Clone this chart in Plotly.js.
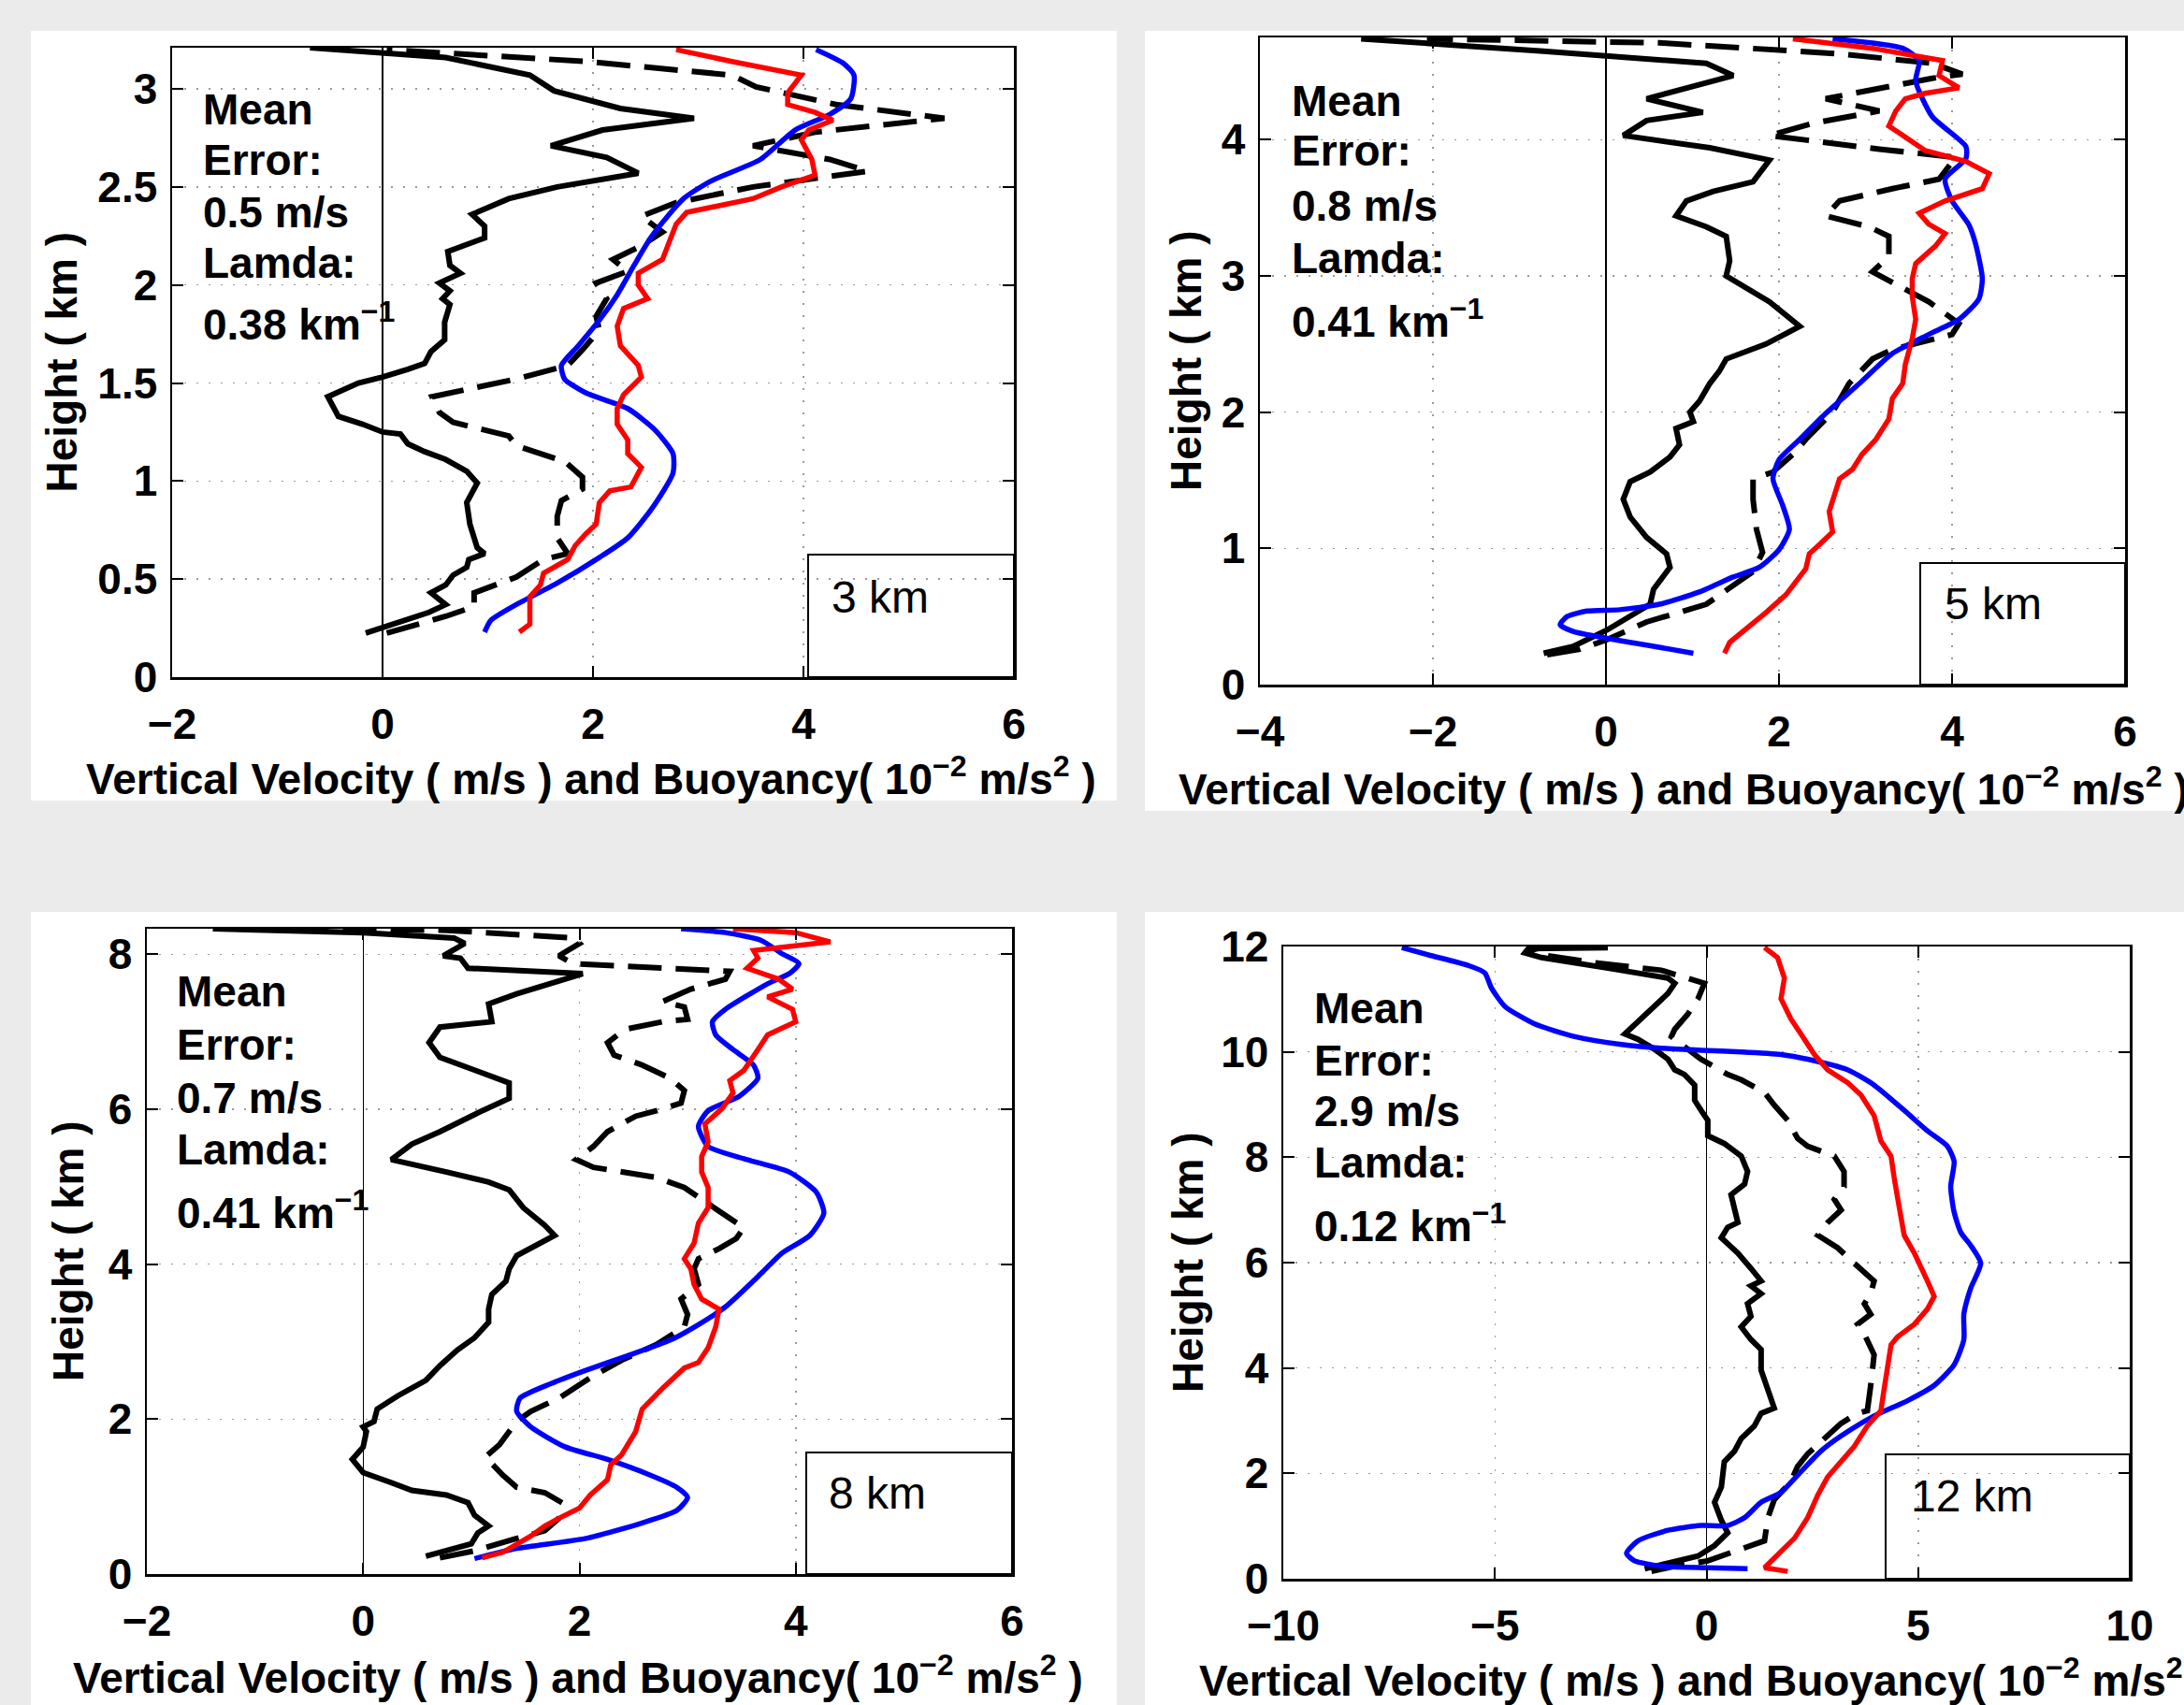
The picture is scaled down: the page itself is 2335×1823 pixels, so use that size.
<!DOCTYPE html>
<html>
<head>
<meta charset="utf-8">
<script src="https://cdn.plot.ly/plotly-3.0.1.min.js"></script>
<style>html,body{margin:0;padding:0;background:#ebebeb;}#chart{width:2335px;height:1823px;}</style>
</head>
<body>
<div id="chart"></div>
<script>
// ---------------- DATA ([value, height_km]) ----------------
// Panel "3 km"
const p1Solid = [[-0.16,0.225],[0.44,0.33],[0.60,0.37],[0.46,0.43],[0.60,0.47],[0.67,0.52],[0.80,0.56],[0.82,0.60],[0.97,0.63],[0.90,0.66],[0.83,0.78],[0.80,0.89],[0.90,0.99],[0.80,1.05],[0.60,1.11],[0.40,1.15],[0.24,1.19],[0.17,1.24],[0.0,1.25],[-0.19,1.29],[-0.42,1.33],[-0.52,1.43],[-0.23,1.50],[0,1.53],[0.24,1.57],[0.40,1.60],[0.46,1.66],[0.59,1.72],[0.59,1.81],[0.64,1.90],[0.57,1.93],[0.64,1.97],[0.54,2.01],[0.74,2.06],[0.64,2.10],[0.62,2.17],[0.97,2.24],[0.97,2.30],[0.85,2.36],[1.20,2.44],[1.66,2.50],[2.43,2.57],[2.13,2.65],[1.60,2.71],[2.09,2.79],[2.96,2.85],[2.26,2.90],[1.63,2.99],[1.40,3.07],[0.60,3.16],[-0.69,3.21]];
const p1Dashed = [[0.04,0.225],[0.60,0.31],[0.87,0.36],[0.87,0.43],[1.27,0.51],[1.53,0.60],[1.76,0.63],[1.66,0.71],[1.66,0.82],[1.70,0.90],[1.90,0.96],[1.90,1.02],[1.73,1.10],[1.27,1.18],[1.20,1.23],[0.67,1.30],[0.54,1.35],[0.47,1.43],[1.27,1.52],[1.76,1.59],[1.90,1.67],[2.06,1.77],[2.03,1.84],[2.13,1.93],[2.03,2.01],[2.33,2.07],[2.19,2.13],[2.46,2.20],[2.66,2.27],[2.46,2.35],[2.79,2.42],[3.52,2.50],[4.61,2.58],[4.25,2.64],[3.52,2.71],[4.12,2.78],[5.34,2.85],[4.31,2.92],[3.55,3.01],[3.32,3.07],[1.93,3.14],[0.04,3.20]];
const p1Blue = [[0.97,0.23],[1.03,0.29],[1.27,0.37],[1.66,0.48],[2.06,0.61],[2.33,0.71],[2.56,0.86],[2.76,1.04],[2.76,1.14],[2.59,1.26],[2.33,1.37],[1.93,1.45],[1.73,1.52],[1.70,1.59],[1.86,1.69],[2.06,1.82],[2.23,1.95],[2.39,2.10],[2.56,2.25],[2.86,2.44],[3.12,2.53],[3.59,2.64],[3.92,2.79],[4.25,2.87],[4.45,2.95],[4.48,3.07],[4.38,3.13],[4.12,3.20]];
const p1Red = [[1.30,0.23],[1.40,0.27],[1.40,0.41],[1.50,0.47],[1.53,0.53],[1.76,0.60],[1.83,0.67],[1.93,0.73],[2.03,0.78],[2.06,0.89],[2.16,0.95],[2.36,0.97],[2.46,1.07],[2.33,1.14],[2.33,1.21],[2.23,1.29],[2.23,1.37],[2.29,1.44],[2.46,1.53],[2.43,1.59],[2.26,1.69],[2.23,1.79],[2.29,1.88],[2.52,1.93],[2.43,2.00],[2.43,2.06],[2.66,2.13],[2.72,2.21],[2.79,2.31],[2.89,2.37],[3.52,2.44],[3.79,2.50],[3.95,2.53],[4.11,2.56],[4.08,2.64],[3.98,2.74],[4.05,2.79],[4.28,2.84],[4.11,2.88],[3.85,2.92],[3.85,2.98],[3.98,3.07],[3.32,3.14],[2.79,3.20]];

// Panel "5 km"
const p2Solid = [[-0.72,0.23],[-0.38,0.28],[0.01,0.40],[0.31,0.51],[0.51,0.59],[0.55,0.70],[0.74,0.86],[0.70,0.96],[0.47,1.08],[0.28,1.23],[0.20,1.36],[0.28,1.49],[0.51,1.56],[0.74,1.67],[0.85,1.76],[0.81,1.88],[1.01,1.93],[0.97,2.00],[1.08,2.08],[1.20,2.21],[1.31,2.30],[1.39,2.39],[1.85,2.50],[2.24,2.63],[1.89,2.81],[1.39,3.00],[1.43,3.11],[1.39,3.29],[1.16,3.36],[0.81,3.44],[0.93,3.55],[1.24,3.62],[1.70,3.69],[1.89,3.85],[1.20,3.94],[0.20,4.03],[0.47,4.14],[1.12,4.20],[0.47,4.30],[1.47,4.47],[1.16,4.56],[-0.76,4.65],[-2.83,4.74]];
const p2Dashed = [[-0.68,0.22],[-0.30,0.26],[0.01,0.33],[0.47,0.46],[1.16,0.59],[1.70,0.83],[1.81,0.97],[1.74,1.14],[1.70,1.36],[1.70,1.51],[1.93,1.56],[2.16,1.69],[2.31,1.80],[2.62,2.00],[2.81,2.21],[3.08,2.39],[3.31,2.46],[4.00,2.57],[4.08,2.65],[3.73,2.81],[3.08,3.03],[3.27,3.14],[3.27,3.29],[3.04,3.36],[2.54,3.44],[2.70,3.55],[3.31,3.64],[3.85,3.71],[4.04,3.87],[3.16,3.93],[1.89,4.03],[2.39,4.12],[3.16,4.21],[2.54,4.30],[3.77,4.45],[4.12,4.48],[3.77,4.56],[2.70,4.63],[0.62,4.71],[-2.07,4.74]];
const p2Blue = [[1.01,0.23],[0.47,0.29],[0.01,0.34],[-0.38,0.39],[-0.53,0.44],[-0.45,0.50],[-0.22,0.54],[0.16,0.55],[0.62,0.59],[1.08,0.68],[1.47,0.79],[1.77,0.86],[2.00,0.99],[2.12,1.14],[2.04,1.32],[1.93,1.51],[2.00,1.65],[2.24,1.80],[2.54,1.99],[2.93,2.21],[3.31,2.43],[3.73,2.57],[4.08,2.68],[4.31,2.83],[4.35,2.98],[4.27,3.24],[4.19,3.38],[4.00,3.55],[3.92,3.71],[4.16,3.86],[4.16,3.95],[3.77,4.17],[3.58,4.43],[3.62,4.58],[3.43,4.67],[2.62,4.74]];
const p2Red = [[1.37,0.23],[1.43,0.31],[1.85,0.53],[2.08,0.66],[2.31,0.85],[2.35,0.96],[2.47,1.03],[2.62,1.12],[2.58,1.27],[2.66,1.42],[2.70,1.51],[2.85,1.58],[2.96,1.69],[3.12,1.80],[3.27,1.95],[3.31,2.10],[3.43,2.21],[3.46,2.35],[3.54,2.54],[3.58,2.68],[3.54,2.85],[3.54,2.98],[3.58,3.09],[3.81,3.22],[3.92,3.31],[3.73,3.38],[3.62,3.46],[3.92,3.55],[4.35,3.64],[4.43,3.75],[4.16,3.84],[3.69,3.92],[3.27,4.10],[3.35,4.21],[3.46,4.30],[3.69,4.34],[4.08,4.38],[3.85,4.47],[3.89,4.58],[3.08,4.67],[2.16,4.74]];

// Panel "8 km"
const p3Solid = [[0.58,0.23],[0.77,0.30],[1.00,0.39],[1.06,0.53],[1.16,0.62],[1.03,0.76],[0.97,0.92],[0.77,1.02],[0.45,1.08],[0.26,1.18],[0.0,1.31],[-0.10,1.48],[0.0,1.64],[0.03,1.84],[0.0,1.90],[0.10,1.97],[0.13,2.13],[0.32,2.30],[0.58,2.50],[0.71,2.69],[0.87,2.89],[1.03,3.05],[1.16,3.25],[1.16,3.42],[1.19,3.61],[1.32,3.78],[1.35,3.94],[1.42,4.11],[1.55,4.20],[1.77,4.37],[1.68,4.50],[1.48,4.73],[1.35,4.96],[1.16,5.06],[0.77,5.19],[0.48,5.29],[0.26,5.35],[0.45,5.55],[0.71,5.71],[1.10,5.98],[1.35,6.14],[1.35,6.34],[1.10,6.47],[0.71,6.67],[0.61,6.86],[0.71,7.06],[1.19,7.13],[1.16,7.36],[1.42,7.49],[2.03,7.75],[0.97,7.82],[0.90,7.95],[0.74,7.98],[0.94,8.14],[0.84,8.21],[0.0,8.28],[-1.39,8.33]];
const p3Dashed = [[0.71,0.21],[1.03,0.30],[1.42,0.46],[1.68,0.56],[1.81,0.72],[1.84,0.92],[1.68,1.05],[1.42,1.12],[1.29,1.28],[1.13,1.51],[1.26,1.67],[1.35,1.84],[1.42,1.97],[1.55,2.10],[1.81,2.27],[2.13,2.56],[2.39,2.76],[2.71,2.96],[2.97,3.19],[3.00,3.35],[2.94,3.55],[3.10,3.74],[3.06,3.94],[3.10,4.07],[3.29,4.20],[3.45,4.33],[3.52,4.47],[3.35,4.63],[3.19,4.79],[2.97,4.99],[2.71,5.12],[2.39,5.19],[2.13,5.25],[1.97,5.35],[2.13,5.52],[2.26,5.71],[2.52,5.91],[2.71,5.98],[2.94,6.08],[2.97,6.24],[2.84,6.40],[2.58,6.57],[2.32,6.70],[2.26,6.86],[2.42,7.03],[2.77,7.13],[3.00,7.16],[2.97,7.32],[2.77,7.39],[3.03,7.55],[3.35,7.68],[3.39,7.78],[2.71,7.82],[1.94,7.88],[1.81,7.98],[2.00,8.14],[1.94,8.21],[0.77,8.31],[-0.65,8.33]];
const p3Blue = [[1.03,0.20],[1.42,0.33],[2.06,0.46],[2.58,0.66],[2.90,0.82],[3.00,0.99],[2.90,1.12],[2.65,1.28],[2.26,1.48],[1.87,1.64],[1.55,1.90],[1.42,2.10],[1.45,2.27],[1.74,2.46],[2.06,2.63],[2.45,2.82],[2.84,3.02],[3.10,3.22],[3.35,3.45],[3.68,3.88],[3.87,4.14],[4.13,4.37],[4.26,4.66],[4.19,4.93],[3.94,5.19],[3.55,5.35],[3.19,5.52],[3.10,5.78],[3.19,5.98],[3.48,6.17],[3.65,6.40],[3.61,6.57],[3.42,6.77],[3.26,6.96],[3.23,7.13],[3.35,7.29],[3.74,7.62],[3.94,7.75],[4.03,7.88],[3.87,8.01],[3.68,8.18],[3.35,8.28],[2.94,8.33]];
const p3Red = [[1.10,0.21],[1.29,0.28],[1.55,0.49],[1.68,0.62],[1.81,0.72],[2.00,0.85],[2.10,1.02],[2.26,1.22],[2.29,1.41],[2.39,1.54],[2.52,1.84],[2.58,2.13],[2.77,2.40],[2.97,2.66],[3.10,2.73],[3.19,2.92],[3.26,3.19],[3.29,3.42],[3.13,3.55],[3.06,3.74],[3.03,3.94],[2.97,4.07],[3.06,4.27],[3.10,4.53],[3.19,4.73],[3.19,4.99],[3.13,5.19],[3.13,5.39],[3.19,5.58],[3.16,5.81],[3.32,6.01],[3.42,6.21],[3.39,6.37],[3.52,6.50],[3.65,6.77],[3.74,6.96],[4.00,7.13],[3.97,7.29],[3.74,7.45],[3.97,7.55],[3.84,7.68],[3.55,7.82],[3.65,7.95],[3.61,8.05],[4.32,8.16],[4.00,8.28],[3.42,8.33]];

// Panel "12 km"
const p4Solid = [[-1.46,0.19],[-0.75,0.34],[-0.20,0.43],[0.19,0.63],[0.50,0.87],[0.35,1.11],[0.19,1.45],[0.35,1.74],[0.42,2.22],[0.66,2.42],[0.82,2.66],[1.13,2.90],[1.29,3.14],[1.60,3.24],[1.45,3.57],[1.29,3.96],[1.29,4.35],[1.05,4.54],[0.82,4.78],[1.05,4.98],[0.97,5.22],[1.29,5.41],[1.05,5.56],[1.29,5.65],[1.05,5.89],[0.74,6.18],[0.35,6.47],[0.50,6.67],[0.74,6.76],[0.66,7.05],[0.58,7.29],[0.90,7.49],[0.97,7.73],[0.82,8.02],[0.42,8.26],[0.03,8.41],[0.03,8.70],[-0.13,8.89],[-0.28,9.08],[-0.28,9.37],[-0.52,9.57],[-0.75,9.66],[-0.91,9.86],[-1.23,10.05],[-1.62,10.24],[-1.93,10.34],[-1.38,10.77],[-0.91,11.11],[-0.75,11.30],[-0.91,11.40],[-2.33,11.59],[-3.90,11.79],[-4.29,11.88],[-4.21,11.96],[-2.33,11.98]];
const p4Dashed = [[-1.30,0.14],[-0.75,0.24],[0.03,0.34],[0.90,0.58],[1.37,0.72],[1.45,1.16],[1.60,1.50],[1.99,1.84],[2.15,2.13],[2.39,2.37],[2.86,2.71],[3.18,2.95],[3.57,3.14],[3.80,3.19],[3.88,3.67],[3.96,4.25],[3.73,4.64],[3.57,4.83],[3.88,5.02],[3.73,5.22],[3.88,5.41],[3.96,5.65],[3.49,5.99],[3.10,6.28],[2.63,6.52],[2.86,6.76],[3.18,7.00],[3.02,7.20],[3.25,7.44],[3.25,7.73],[3.02,8.02],[2.39,8.21],[2.15,8.36],[1.92,8.70],[1.60,8.99],[1.37,9.23],[0.82,9.47],[0.50,9.57],[-0.13,9.86],[-0.83,10.29],[-0.75,10.43],[-0.44,10.72],[-0.20,11.01],[-0.05,11.30],[-1.07,11.55],[-2.64,11.69],[-3.90,11.84],[-4.29,11.90],[-3.90,11.98]];
const p4Blue = [[0.97,0.19],[0.03,0.21],[-1.07,0.24],[-1.70,0.34],[-1.89,0.48],[-1.62,0.72],[-0.91,0.92],[-0.13,1.01],[0.50,1.01],[0.90,1.16],[1.29,1.45],[1.76,1.64],[2.23,2.03],[2.70,2.42],[3.18,2.71],[3.96,3.09],[4.75,3.38],[5.38,3.67],[5.85,4.06],[6.08,4.54],[6.08,5.02],[6.24,5.51],[6.48,5.99],[6.24,6.33],[6.01,6.57],[5.85,6.96],[5.77,7.44],[5.85,7.92],[5.69,8.21],[5.22,8.50],[4.67,8.89],[3.96,9.37],[3.33,9.66],[2.39,9.86],[1.76,9.95],[0.82,10.00],[-0.13,10.03],[-1.07,10.07],[-2.01,10.14],[-3.11,10.29],[-4.06,10.53],[-4.76,10.86],[-5.08,11.21],[-5.24,11.50],[-5.63,11.64],[-6.57,11.84],[-7.20,11.98]];
const p4Red = [[1.92,0.14],[1.37,0.21],[1.60,0.39],[2.08,0.77],[2.39,1.16],[2.63,1.59],[2.86,1.93],[3.18,2.22],[3.49,2.51],[3.80,2.90],[4.12,3.19],[4.20,3.62],[4.28,4.06],[4.36,4.44],[4.51,4.59],[4.91,4.83],[5.22,5.12],[5.38,5.36],[5.22,5.65],[4.91,6.18],[4.67,6.52],[4.59,6.96],[4.51,7.25],[4.43,7.63],[4.36,8.02],[4.12,8.31],[3.96,8.79],[3.65,9.18],[3.33,9.42],[2.86,9.66],[2.55,9.95],[2.23,10.34],[1.99,10.63],[1.76,11.01],[1.84,11.40],[1.68,11.79],[1.37,11.98]];

// Tick values / labels
const p1XTicks = [-2,0,2,4,6], p1XLabels = ['−2','0','2','4','6'];
const p1YTicks = [0,0.5,1,1.5,2,2.5,3], p1YLabels = ['0','0.5','1','1.5','2','2.5','3'];
const p2XTicks = [-4,-2,0,2,4,6], p2XLabels = ['−4','−2','0','2','4','6'];
const p2YTicks = [0,1,2,3,4], p2YLabels = ['0','1','2','3','4'];
const p3XTicks = [-2,0,2,4,6], p3XLabels = ['−2','0','2','4','6'];
const p3YTicks = [0,2,4,6,8], p3YLabels = ['0','2','4','6','8'];
const p4XTicks = [-10,-5,0,5,10], p4XLabels = ['−10','−5','0','5','10'];
const p4YTicks = [0,2,4,6,8,10,12], p4YLabels = ['0','2','4','6','8','10','12'];

// Text
const meanErrors = ['0.5 m/s','0.8 m/s','0.7 m/s','2.9 m/s'];
const lamdas = ['0.38','0.41','0.41','0.12'];
const boxLabels = ['3 km','5 km','8 km','12 km'];
const xTitle = 'Vertical Velocity ( m/s ) and Buoyancy( 10<sup>−2</sup> m/s<sup>2</sup> )';
const yTitle = 'Height ( km )';

// ---------------- LAYOUT (pixel geometry) ----------------
const W = 2335, H = 1823;
const FONT = 'Liberation Sans, Arial, Helvetica, sans-serif';
const px = v => v / W;
const py = v => 1 - v / H;

const panels = [
  {s:p1Solid,d:p1Dashed,b:p1Blue,r:p1Red, xd:[184,1084], yd:[51,724], xr:[-2,6], yr:[0,3.21],
   xt:p1XTicks,xl:p1XLabels,yt:p1YTicks,yl:p1YLabels,
   bg:[33,33,1194,856], txtX:218, base:[133,187,243,297,360],
   box:[864,593,1084,724], boxTxt:[887,655], yTitleX:65, xTitleX:632, xTitleY:830},
  {s:p2Solid,d:p2Dashed,b:p2Blue,r:p2Red, xd:[1347,2272], yd:[40,732], xr:[-4,6], yr:[0,4.75],
   xt:p2XTicks,xl:p2XLabels,yt:p2YTicks,yl:p2YLabels,
   bg:[1224,33,2335,867], txtX:1382, base:[124,177,236,292,357],
   box:[2053,602,2272,732], boxTxt:[2077,662], yTitleX:1268, xTitleX:1800, xTitleY:841},
  {s:p3Solid,d:p3Dashed,b:p3Blue,r:p3Red, xd:[157,1082], yd:[993,1683], xr:[-2,6], yr:[0,8.33],
   xt:p3XTicks,xl:p3XLabels,yt:p3YTicks,yl:p3YLabels,
   bg:[33,975,1194,1823], txtX:190, base:[1076,1133,1190,1245,1310],
   box:[862,1553,1082,1683], boxTxt:[884,1613], yTitleX:73, xTitleX:618, xTitleY:1791},
  {s:p4Solid,d:p4Dashed,b:p4Blue,r:p4Red, xd:[1372,2277], yd:[1012,1688], xr:[-10,10], yr:[0,12],
   xt:p4XTicks,xl:p4XLabels,yt:p4YTicks,yl:p4YLabels,
   bg:[1224,975,2335,1823], txtX:1406, base:[1094,1150,1204,1259,1324],
   box:[2016,1555,2277,1688], boxTxt:[2041,1616], yTitleX:1270, xTitleX:1822, xTitleY:1794}
];

const traces = [];
const layout = {
  width: W, height: H, margin:{l:0,r:0,t:0,b:0},
  paper_bgcolor:'#ebebeb', plot_bgcolor:'#ffffff', showlegend:false,
  font:{family:FONT,color:'#000'},
  shapes:[], annotations:[]
};

function axisBase(){
  return {ticks:'inside', ticklen:12, tickwidth:2, tickcolor:'#000', showline:true, mirror:'ticks',
    linecolor:'#000', linewidth:2.5, showgrid:true, gridcolor:'#9a9a9a', gridwidth:1.5, griddash:'2px,11px',
    tickmode:'array', fixedrange:true, automargin:false,
    tickfont:{family:FONT,size:46,color:'#000',weight:'bold'}};
}

panels.forEach((p,i)=>{
  const n = i+1, sx = n===1?'':String(n);
  const xa = 'x'+sx, ya = 'y'+sx;
  const xaxis = Object.assign(axisBase(), {domain:[px(p.xd[0]),px(p.xd[1])], range:p.xr, tickvals:p.xt, ticktext:p.xl,
    anchor:ya, zeroline:true, zerolinecolor:'#000', zerolinewidth:1.5, ticklabelstandoff:8});
  const yaxis = Object.assign(axisBase(), {domain:[py(p.yd[1]),py(p.yd[0])], range:p.yr, tickvals:p.yt, ticktext:p.yl,
    anchor:xa, zeroline:false, ticklabelstandoff:4});
  layout['xaxis'+sx] = xaxis;
  layout['yaxis'+sx] = yaxis;

  const mk = (arr, color, width, dash, shape) => ({type:'scatter', mode:'lines', xaxis:xa, yaxis:ya,
    x:arr.map(q=>q[0]), y:arr.map(q=>q[1]), hoverinfo:'skip',
    line:{color:color, width:width, dash:dash, shape:shape||'linear', smoothing:0.6}});
  traces.push(mk(p.s,'#000000',6,'solid'));
  traces.push(mk(p.d,'#000000',6,'36px,15px'));
  traces.push(mk(p.b,'#0000ff',5.5,'solid','spline'));
  traces.push(mk(p.r,'#ff0000',5.5,'solid'));

  // white panel background
  layout.shapes.push({type:'rect', xref:'paper', yref:'paper', layer:'below',
    x0:px(p.bg[0]), x1:px(p.bg[2]), y0:py(p.bg[3]), y1:py(p.bg[1]), fillcolor:'#ffffff', line:{width:0}});
  // legend-like box
  layout.shapes.push({type:'rect', xref:'paper', yref:'paper', layer:'above',
    x0:px(p.box[0]), x1:px(p.box[2]), y0:py(p.box[3]), y1:py(p.box[1]), line:{color:'#000',width:2}});
  layout.annotations.push({xref:'paper', yref:'paper', x:px(p.boxTxt[0]), y:py(p.boxTxt[1]-17), xanchor:'left', yanchor:'middle',
    text:boxLabels[i], showarrow:false, font:{family:FONT,size:48,color:'#000'}});

  // mean error text
  const lines = ['Mean','Error:',meanErrors[i],'Lamda:',lamdas[i]+' km<sup>−1</sup>'];
  lines.forEach((t,k)=>{
    layout.annotations.push({xref:'paper', yref:'paper', x:px(p.txtX-3), y:py(p.base[k]-16), xanchor:'left', yanchor:'middle',
      text:t, showarrow:false, font:{family:FONT,size:46,color:'#000',weight:'bold'}});
  });
  // axis titles
  layout.annotations.push({xref:'paper', yref:'paper', x:px(p.yTitleX), y:py((p.yd[0]+p.yd[1])/2), xanchor:'center', yanchor:'middle',
    textangle:-90, text:yTitle, showarrow:false, font:{family:FONT,size:46,color:'#000',weight:'bold'}});
  layout.annotations.push({xref:'paper', yref:'paper', x:px(p.xTitleX), y:py(p.xTitleY), xanchor:'center', yanchor:'middle',
    text:xTitle, showarrow:false, font:{family:FONT,size:46,color:'#000',weight:'bold'}});
});

Plotly.newPlot('chart', traces, layout, {displayModeBar:false, staticPlot:true});
</script>
</body>
</html>
